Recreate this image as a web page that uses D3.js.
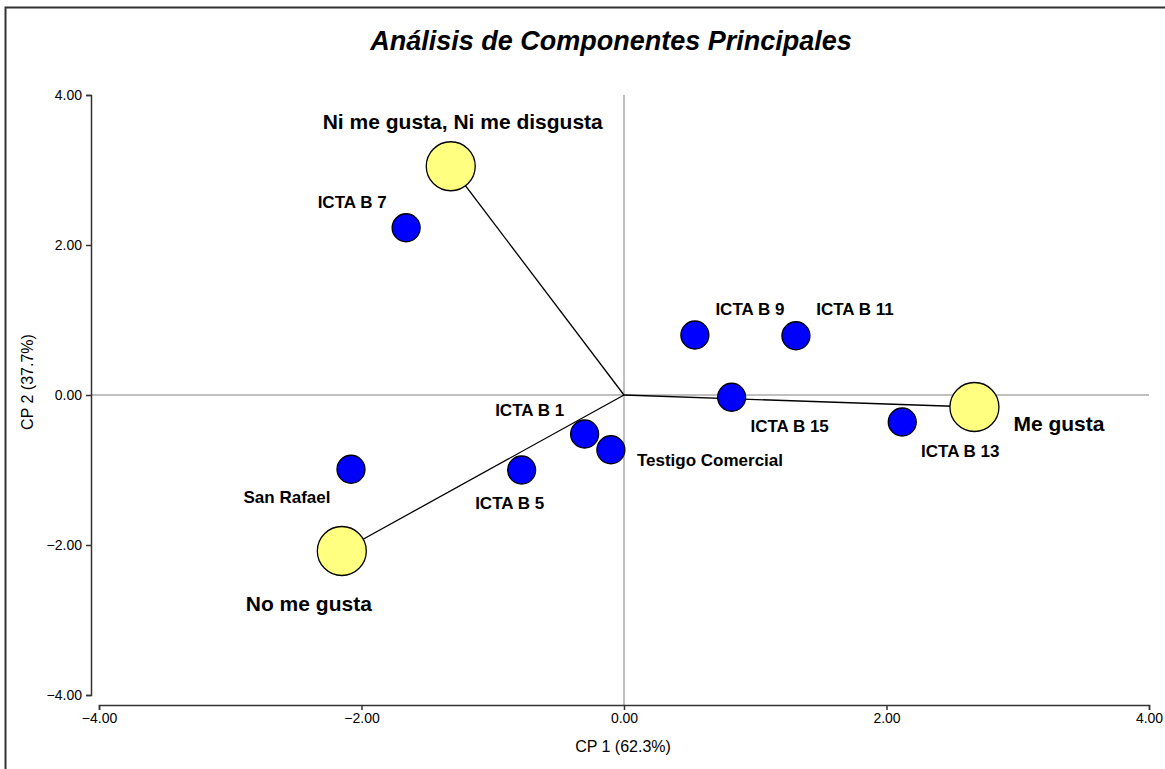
<!DOCTYPE html>
<html>
<head>
<meta charset="utf-8">
<script src="https://cdn.jsdelivr.net/npm/d3@7"></script>
<style>
  body { margin: 0; background: #fff; }
  svg { display: block; font-family: Arial, "Liberation Sans", sans-serif; }
</style>
</head>
<body>
<svg id="chart" width="1165" height="769"></svg>
<script>
// ---- Data ----
const title = "Análisis de Componentes Principales";
const xLabel = "CP 1 (62.3%)";
const yLabel = "CP 2 (37.7%)";
const tickValues = [-4, -2, 0, 2, 4];

// Treatments (blue points)
const treatNames = ["ICTA B 7", "ICTA B 9", "ICTA B 11", "ICTA B 15", "ICTA B 13",
                    "ICTA B 1", "Testigo Comercial", "ICTA B 5", "San Rafael"];
const treatCP1 = [-1.66, 0.54, 1.31, 0.82, 2.12, -0.30, -0.10, -0.78, -2.08];
const treatCP2 = [2.23, 0.80, 0.79, -0.03, -0.36, -0.52, -0.73, -1.00, -0.99];

// Variables (yellow vectors)
const varNames = ["Ni me gusta, Ni me disgusta", "Me gusta", "No me gusta"];
const varCP1 = [-1.32, 2.67, -2.15];
const varCP2 = [3.05, -0.16, -2.08];

// ---- Layout (label placement, px) ----
const treatLabelOffset = [[-54, -20, "middle"], [55, -20, "middle"], [59, -21, "middle"],
  [58, 35, "middle"], [58, 35, "middle"], [-55, -18, "middle"], [26, 16, "start"],
  [-12, 39, "middle"], [-64, 34, "middle"]];
const varLabelOffset = [[12, -37, "middle"], [39, 24, "start"], [-33, 60, "middle"]];

const svg = d3.select("#chart");

// outer frame
svg.append("rect").attr("x", 5.5).attr("y", 7.5).attr("width", 1170).attr("height", 780)
  .attr("fill", "none").attr("stroke", "#333").attr("stroke-width", 2);

const x = d3.scaleLinear().domain([-4, 4]).range([99, 1149]);
const y = d3.scaleLinear().domain([-4, 4]).range([695, 95]);
const yAxisX = 91, xAxisY = 705;

// zero lines
svg.append("line").attr("x1", x(0)).attr("x2", x(0)).attr("y1", y(4)).attr("y2", xAxisY)
  .attr("stroke", "#808080").attr("stroke-width", 1);
svg.append("line").attr("x1", yAxisX).attr("x2", x(4)).attr("y1", y(0)).attr("y2", y(0))
  .attr("stroke", "#808080").attr("stroke-width", 1);

// axes
const fmt = d3.format(".2f");
const gy = svg.append("g").attr("transform", `translate(${yAxisX},0)`)
  .call(d3.axisLeft(y).tickValues(tickValues).tickFormat(fmt).tickSizeOuter(0).tickSize(5).tickPadding(4));
const gx = svg.append("g").attr("transform", `translate(0,${xAxisY})`)
  .call(d3.axisBottom(x).tickValues(tickValues).tickFormat(fmt).tickSizeOuter(0).tickSize(5).tickPadding(3));
[gx, gy].forEach(g => {
  g.select(".domain").attr("stroke", "#333").attr("stroke-width", 1.5);
  g.selectAll(".tick line").attr("stroke", "#333").attr("stroke-width", 1.5);
  g.selectAll(".tick text").attr("fill", "#000").style("font-size", "14px")
    .style("font-family", "Arial, 'Liberation Sans', sans-serif");
});

// axis titles
svg.append("text").attr("x", 623).attr("y", 752).attr("text-anchor", "middle")
  .style("font-size", "16px").text(xLabel);
svg.append("text").attr("transform", "translate(33,382) rotate(-90)").attr("text-anchor", "middle")
  .style("font-size", "16px").text(yLabel);

// title
svg.append("text").attr("x", 611).attr("y", 50).attr("text-anchor", "middle")
  .style("font-size", "27px").style("font-weight", "bold").style("font-style", "italic")
  .text(title);

// vectors
const vars = varNames.map((n, i) => ({ name: n, cp1: varCP1[i], cp2: varCP2[i], off: varLabelOffset[i] }));
const treats = treatNames.map((n, i) => ({ name: n, cp1: treatCP1[i], cp2: treatCP2[i], off: treatLabelOffset[i] }));

svg.append("g").selectAll("line").data(vars).join("line")
  .attr("x1", x(0)).attr("y1", y(0))
  .attr("x2", d => x(d.cp1)).attr("y2", d => y(d.cp2))
  .attr("stroke", "#000").attr("stroke-width", 1.3);

// treatment points
svg.append("g").selectAll("circle").data(treats).join("circle")
  .attr("cx", d => x(d.cp1)).attr("cy", d => y(d.cp2)).attr("r", 14)
  .attr("fill", "#0000ff").attr("stroke", "#000").attr("stroke-width", 1.3);

// variable points
svg.append("g").selectAll("circle").data(vars).join("circle")
  .attr("cx", d => x(d.cp1)).attr("cy", d => y(d.cp2)).attr("r", 24.5)
  .attr("fill", "#ffff80").attr("stroke", "#000").attr("stroke-width", 1.3);

// labels
svg.append("g").selectAll("text").data(treats).join("text")
  .attr("x", d => x(d.cp1) + d.off[0]).attr("y", d => y(d.cp2) + d.off[1])
  .attr("text-anchor", d => d.off[2])
  .style("font-size", "17px").style("font-weight", "bold").text(d => d.name);

svg.append("g").selectAll("text").data(vars).join("text")
  .attr("x", d => x(d.cp1) + d.off[0]).attr("y", d => y(d.cp2) + d.off[1])
  .attr("text-anchor", d => d.off[2])
  .style("font-size", "21px").style("font-weight", "bold").text(d => d.name);
</script>
</body>
</html>
